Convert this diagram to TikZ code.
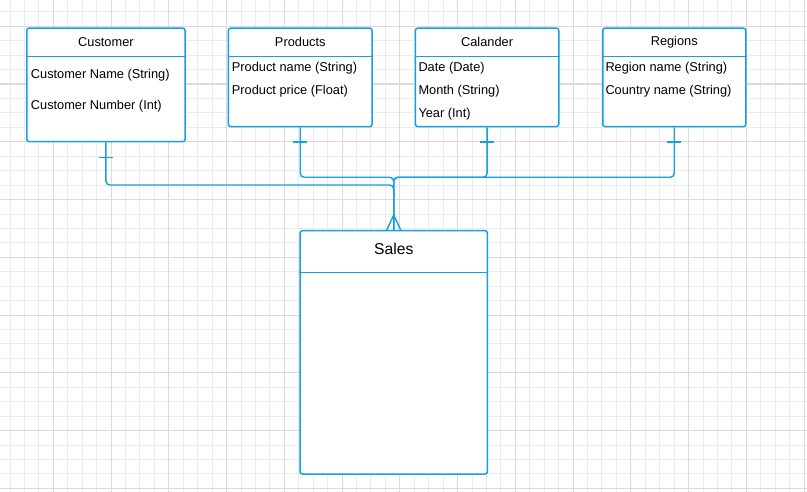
\documentclass[tikz,border=0pt]{standalone}
\usepackage{fontspec}
\setmainfont{Liberation Sans}
\usepackage{xcolor}
\definecolor{erblue}{RGB}{22,160,222}
\tikzset{
  entity/.style={draw=erblue, line width=1.5pt, rounded corners=2.5pt,
    fill=white, anchor=north west, inner sep=0pt},
  title/.style={font=\fontsize{12.8}{15}\selectfont, inner sep=0pt},
  attr/.style={font=\fontsize{12.8}{15}\selectfont, anchor=west, inner sep=0pt},
  rel/.style={draw=erblue, line width=1.4pt, rounded corners=4pt},
  bar/.style={draw=erblue, line width=1.4pt},
  minorgrid/.style={draw=black!8, line width=0.9pt},
  majorgrid/.style={draw=black!14, line width=1.1pt},
}

\begin{document}
\begin{tikzpicture}[x=1pt,y=1pt]
    \useasboundingbox[fill=white] (0,0) rectangle (807,-492);
    % background grid
    \foreach \i in {0,...,56}
        \draw[minorgrid] ({-4.45+14.4375*\i},0) -- ++(0,-492);
    \foreach \j in {0,...,34}
        \draw[minorgrid] (0,{2.575-14.4375*\j}) -- ++(807,0);
    \foreach \i in {0,4,...,56}
        \draw[majorgrid] ({-4.45+14.4375*\i},0) -- ++(0,-492);
    \foreach \j in {2,6,...,34}
        \draw[majorgrid] (0,{2.575-14.4375*\j}) -- ++(807,0);

    % entities
    \node[entity, minimum width=158.3pt, minimum height=113.7pt] (cust) at (26,-27.3) {};
    \node[entity, minimum width=143.6pt, minimum height=98.7pt] (prod) at (227.7,-27.3) {};
    \node[entity, minimum width=143.3pt, minimum height=98.7pt] (cal) at (414.7,-27.3) {};
    \node[entity, minimum width=143pt, minimum height=98.7pt] (reg) at (602,-27.3) {};
    \node[entity, minimum width=187.4pt, minimum height=243.3pt] (sales) at (299.3,-230) {};
    \foreach \e in {cust,prod,cal,reg}
        \draw[bar] ([yshift=-29.4pt]\e.north west) -- ([yshift=-29.4pt]\e.north east);
    \draw[bar] ([yshift=-42.3pt]sales.north west) -- ([yshift=-42.3pt]sales.north east);

    \node[title] (custT) at ([yshift=-14.6pt]cust.north) {Customer};
    \node[title] (prodT) at ([yshift=-14.6pt]prod.north) {Products};
    \node[title] (calT) at ([yshift=-14.6pt]cal.north) {Calander};
    \node[title] (regT) at ([yshift=-14.6pt]reg.north) {Regions};
    \node[title, font=\fontsize{15.7}{18}\selectfont] (salesT) at ([yshift=-19.3pt]sales.north) {Sales};

    \node[attr] (custA) at (30.7,-74.8) {Customer Name (String)};
    \node[attr] (custB) at (30.7,-106.5) {Customer Number (Int)};
    \node[attr] (prodA) at (231.7,-68.2) {Product name (String)};
    \node[attr] (prodB) at (231.7,-91.5) {Product price (Float)};
    \node[attr] (calA) at (418.3,-68.2) {Date (Date)};
    \node[attr] (calB) at (418.3,-91.5) {Month (String)};
    \node[attr] (calC) at (418.3,-114.2) {Year (Int)};
    \node[attr] (regA) at (605.3,-68.2) {Region name (String)};
    \node[attr] (regB) at (605.3,-91.5) {Country name (String)};

    % connectors
    \draw[rel] (cust.south) -- (cust.south |- 0,-185) -| (sales.north);
    \foreach \e in {prod,cal,reg}
        \draw[rel] (\e.south) -- (\e.south |- 0,-177.3) -| (sales.north);

    % one and many ends
    \draw[bar] ([shift={(-7,-15)}]cust.south) -- ++(14,0);
    \foreach \e in {prod,cal,reg}
        \draw[bar] ([shift={(-7,-14.7)}]\e.south) -- ++(14,0);
    \draw[bar] ([xshift=-7pt]sales.north) -- ([yshift=15pt]sales.north) -- ([xshift=7pt]sales.north);
\end{tikzpicture}
\end{document}
